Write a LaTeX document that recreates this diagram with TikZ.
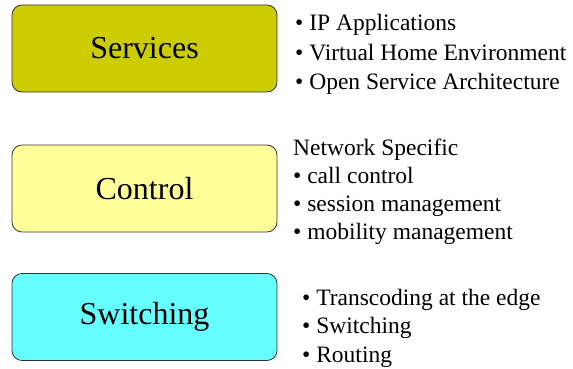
\documentclass[tikz,border=0pt]{standalone}
\usepackage{fontspec}
\setmainfont{Liberation Serif}
\newfontfamily\layerfont{Liberation Serif}

\begin{document}
\begin{tikzpicture}[x=1pt,y=-1pt,
    layer/.style={draw=black!80, rounded corners=10pt, line width=0.8pt,
        minimum width=265pt, minimum height=87pt,
        font=\layerfont\fontsize{32}{36}\selectfont},
    item/.style={anchor=base west, inner sep=0pt,
        font=\layerfont\fontsize{23.5}{28}\selectfont}]
    % Define layer colors
    \definecolor{servfill}{RGB}{204, 204, 0}
    \definecolor{ctrlfill}{RGB}{255, 255, 153}
    \definecolor{swfill}{RGB}{102, 255, 255}

    \useasboundingbox (0,0) rectangle (573,369);

    % Layer boxes
    \node[layer, fill=servfill] (services) at (144.5,48.5) {Services};
    \node[layer, fill=ctrlfill] (control) at (144.5,188.5) {Control};
    \node[layer, fill=swfill] (switching) at (144.5,317) {Switching};

    % Services items
    \foreach \txt [count=\i] in {IP Applications, Virtual Home Environment, Open Service Architecture} {
        \node[item] (serv\i) at (295,{31+29*(\i-1)}) {\textbullet\ \txt};
    }

    % Control items
    \node[item] (ctrlhead) at (293,155) {Network Specific};
    \foreach \txt [count=\i] in {call control, session management, mobility management} {
        \node[item] (ctrl\i) at (293,{183+28*(\i-1)}) {\textbullet\ \txt};
    }

    % Switching items
    \foreach \txt [count=\i] in {Transcoding at the edge, Switching, Routing} {
        \node[item] (sw\i) at (302,{305+28.5*(\i-1)}) {\textbullet\ \txt};
    }

\end{tikzpicture}
\end{document}
